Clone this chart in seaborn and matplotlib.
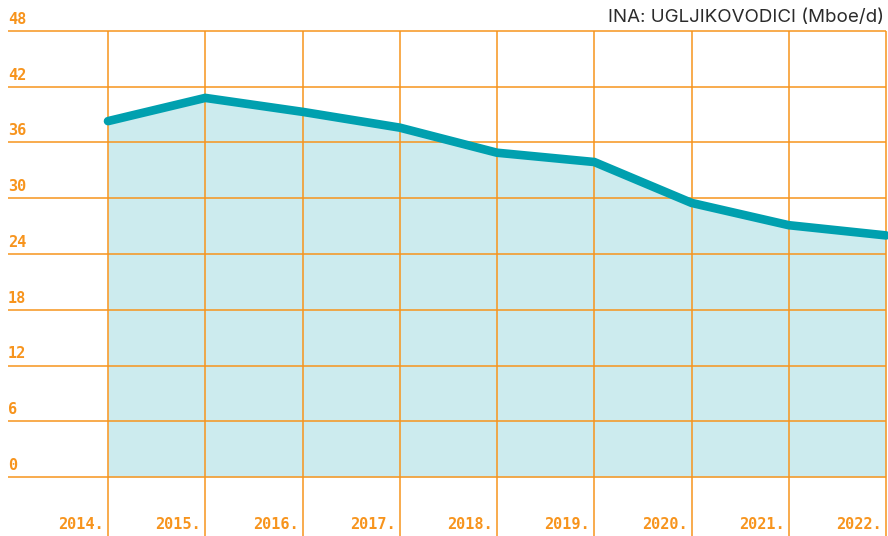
import numpy as np
import pandas as pd
import matplotlib
matplotlib.use("Agg")
import matplotlib.pyplot as plt
import seaborn as sns

years = [2014, 2015, 2016, 2017, 2018, 2019, 2020, 2021, 2022]
production = [38.3, 40.8, 39.3, 37.6, 34.9, 33.9, 29.5, 27.1, 26.0]
y_ticks = [0, 6, 12, 18, 24, 30, 36, 42, 48]
year_labels = [f"{y}." for y in years]
title = "INA: UGLJIKOVODICI (Mboe/d)"

orange = "#F7941D"
teal = "#00A0AF"
fill_col = "#CCEBEE"

sns.set_theme(style="white")
plt.rcParams["font.family"] = ["DejaVu Sans Mono", "DejaVu Sans"]

df = pd.DataFrame({"year": years, "value": production})

fig = plt.figure(figsize=(8.88, 5.36), dpi=100)
ax = fig.add_axes([0, 0, 1, 1])

# pixel mapping: 2014 -> 108px, 2022 -> 886px ; 0 -> 477px, 48 -> 31px
px_per_year = (886 - 108) / 8
x_left = 2014 - 108 / px_per_year
x_right = 2022 + 2 / px_per_year
px_per_unit = (477 - 31) / 48
y_bottom = -(536 - 477) / px_per_unit
y_top = 48 + 31 / px_per_unit
ax.set_xlim(x_left, x_right)
ax.set_ylim(y_bottom, y_top)

ax.fill_between(df["year"], 0, df["value"], color=fill_col, lw=0, zorder=1)

# grid
x_grid_start = 2014 - 100 / px_per_year
ax.hlines(y_ticks, x_grid_start, 2022, color=orange, lw=1.1, zorder=2)
ax.vlines(years, y_bottom, 48, color=orange, lw=1.1, zorder=2)

sns.lineplot(data=df, x="year", y="value", ax=ax, color=teal, lw=6.2,
             solid_capstyle="round", solid_joinstyle="miter", zorder=3)

ax.set_axis_off()

# y labels above grid lines
for t in y_ticks:
    ax.text(x_grid_start, t + 4 / px_per_unit, str(t), color=orange,
            fontsize=11, fontweight="bold", ha="left", va="bottom")

# year labels at bottom, right-aligned to grid line
for y, lab in zip(years, year_labels):
    ax.text(y - 4 / px_per_year, y_bottom + 4 / px_per_unit, lab, color=orange,
            fontsize=11, fontweight="bold", ha="right", va="bottom")

fig.text(884 / 888, 1 - 18 / 536, title, ha="right", va="center",
         fontsize=13.5, color="#2b2b2b", family=["Inter", "DejaVu Sans"])

fig.savefig("out.png", dpi=100)
